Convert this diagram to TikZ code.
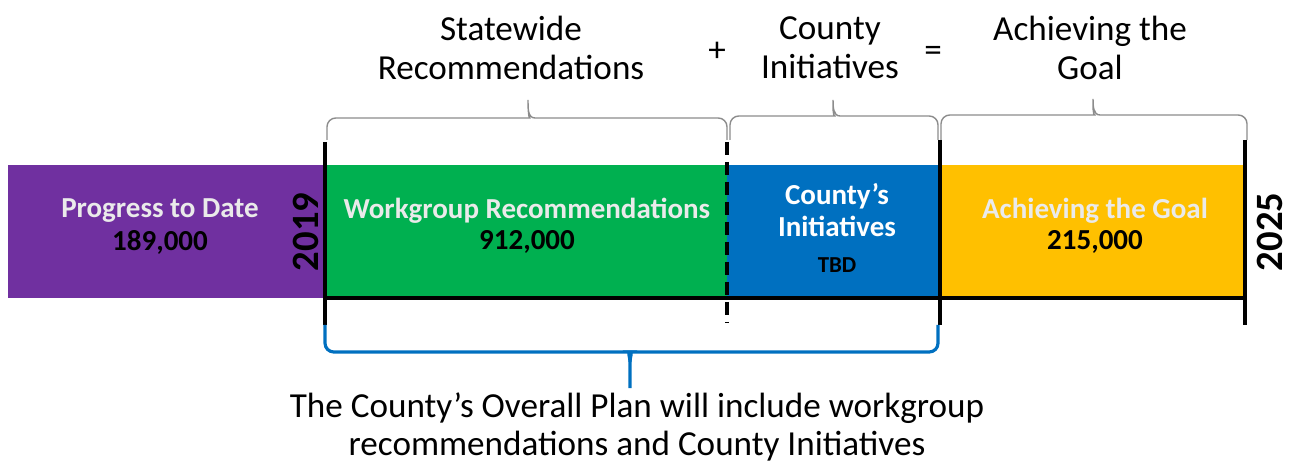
\documentclass[tikz,border=0pt]{standalone}
\usepackage{fontspec}
\setmainfont{Carlito}
\usetikzlibrary{positioning}
\definecolor{progpurple}{HTML}{7030A0}
\definecolor{workgreen}{HTML}{00B050}
\definecolor{countyblue}{HTML}{0070C0}
\definecolor{goalyellow}{HTML}{FFC000}
\definecolor{labelgray}{HTML}{EAEAEA}
\definecolor{bracegray}{HTML}{8C8C8C}
\begin{document}
\begin{tikzpicture}[x=0.02cm, y=-0.02cm,
  bar/.style = {minimum height=2.66cm, inner sep=0pt, outer sep=0pt},
  head/.style = {font=\fontsize{20}{22}\selectfont, align=center},
  lbl/.style = {font=\bfseries\fontsize{16.5}{19}\selectfont, text=labelgray, align=center},
  num/.style = {font=\bfseries\fontsize{16.5}{19}\selectfont},
  year/.style = {font=\bfseries\fontsize{22}{24}\selectfont, rotate=90},
  tick/.style = {line width=2.3pt},
  topbrace/.style = {draw=bracegray, line width=0.8pt},
  planbrace/.style = {draw=countyblue, line width=1.8pt}]
\useasboundingbox (0,0) rectangle (1293,465);
% bars
\node[bar, fill=progpurple, minimum width=6.34cm, anchor=north west] (progress) at (8,165) {};
\node[bar, fill=workgreen, minimum width=8.04cm, right=0pt of progress] (workgroup) {};
\node[bar, fill=countyblue, minimum width=4.26cm, right=0pt of workgroup] (county) {};
\node[bar, fill=goalyellow, minimum width=6.10cm, right=0pt of county] (goal) {};
% bar texts
\node[lbl] (progresslbl) at (160,211) {Progress to Date};
\node[num] (progressnum) at (160,242) {189,000};
\node[lbl] (workgrouplbl) at (527,211) {Workgroup Recommendations};
\node[num] (workgroupnum) at (527,242) {912,000};
\node[lbl, text=white, font=\bfseries\fontsize{16.5}{18}\selectfont] (countylbl) at (837,210) {County’s\\Initiatives};
\node[num, font=\bfseries\fontsize{13}{15}\selectfont] (countynum) at (837,265) {TBD};
\node[lbl] (goallbl) at (1095,211) {Achieving the Goal};
\node[num] (goalnum) at (1095,242) {215,000};
% years
\node[year] (start) at (306,232) {2019};
\node[year] (finish) at (1270,232) {2025};
% timeline marks
\draw[tick] (325,142) -- (325,325);
\draw[tick] (940,140) -- (940,325);
\draw[tick] (1245,140) -- (1245,325);
\draw[line width=1.8pt] (325,298) -- (1245,298);
\draw[line width=2.3pt, dash pattern=on 0.26cm off 0.14cm] (727,142) -- (727,322);
% headings
\node[head] (statewide) at (511,48) {Statewide\\Recommendations};
\node[head] (plus) at (717,52) {+};
\node[head] (countyhead) at (830,48) {County\\Initiatives};
\node[head] (equals) at (933,54) {=};
\node[head] (goalhead) at (1090,48) {Achieving the\\Goal};
% braces
\draw[topbrace] (327,140) [rounded corners=5pt] |- (521,118) [sharp corners] to[out=0,in=-90] (528,100)
  to[out=-90,in=180] (535,118) [rounded corners=5pt] -| (727,140);
\draw[topbrace] (730,140) [rounded corners=5pt] |- (826,116) [sharp corners] to[out=0,in=-90] (833,100)
  to[out=-90,in=180] (840,116) [rounded corners=5pt] -| (938,140);
\draw[topbrace] (941,140) [rounded corners=5pt] |- (1086,115) [sharp corners] to[out=0,in=-90] (1093,99)
  to[out=-90,in=180] (1100,115) [rounded corners=5pt] -| (1247,140);
\draw[planbrace] (325,325) [rounded corners=5pt] |- (622,352) [sharp corners] to[out=0,in=90] (630,362)
  -- (630,388);
\draw[planbrace] (938,325) [rounded corners=5pt] |- (638,352) [sharp corners] to[out=180,in=90] (630,362);
\node[head, inner sep=0pt] (plan) at (637,427) {The County’s Overall Plan will include workgroup\\recommendations and County Initiatives};
\end{tikzpicture}
\end{document}
